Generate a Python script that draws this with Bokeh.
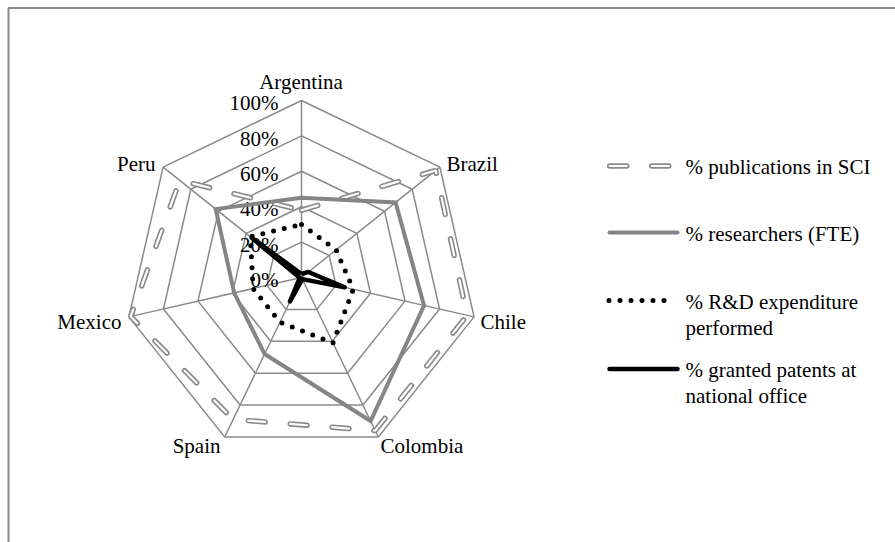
import math
from bokeh.plotting import figure
from bokeh.models import Range1d
from bokeh.embed import file_html
from bokeh.resources import INLINE
from bokeh.core.properties import value

# ---------------- data ----------------
countries = ["Argentina", "Brazil", "Chile", "Colombia", "Spain", "Mexico", "Peru"]
pub_sci = [38, 97, 96, 96, 89, 99, 88]          # % publications in SCI
researchers = [45, 68, 71, 90, 48, 39, 62]      # % researchers (FTE)
rd_expenditure = [30, 25, 30, 41, 28, 28, 37]   # % R&D expenditure performed
patents = [2, 5, 25, 1, 15, 1, 36]              # % granted patents at national office
ticks = [0, 20, 40, 60, 80, 100]
tick_labels = ["0%", "20%", "40%", "60%", "80%", "100%"]
legend_lines = [["% publications in SCI"],
                ["% researchers (FTE)"],
                ["% R&D expenditure", "performed"],
                ["% granted patents at", "national office"]]

# ---------------- layout ----------------
W, H = 895, 542
CX, CY = 301, 277      # radar centre in pixels
SCALE = 1.77           # pixels per percent
FONT = value("Liberation Serif")
FS = "21px"
GRID = "#8a8a8a"
SERIES_GRAY = "#858585"
BASE_SHIFT = 6.4       # px between requested 'middle' anchor and visual baseline


def px(xp, yp):
    return (xp - CX) / SCALE, (CY - yp) / SCALE


n = len(countries)
angles = [math.pi / 2 - 2 * math.pi * k / n for k in range(n)]


def polar(vals, close=True):
    xs = [v * math.cos(a) for v, a in zip(vals, angles)]
    ys = [v * math.sin(a) for v, a in zip(vals, angles)]
    if close:
        xs.append(xs[0])
        ys.append(ys[0])
    return xs, ys


p = figure(width=W, height=H,
           x_range=Range1d(-CX / SCALE, (W - CX) / SCALE),
           y_range=Range1d(-(H - CY) / SCALE, CY / SCALE),
           output_backend="svg", toolbar_location=None,
           x_axis_location=None, y_axis_location=None,
           min_border=0, outline_line_color=None)
p.grid.visible = False
p.background_fill_color = "white"
p.border_fill_color = "white"

# outer frame (top and left edges visible)
fx, fy = zip(px(8, H + 5), px(8, 7.5), px(W + 5, 7.5))
p.line(list(fx), list(fy), line_color="#8a8a8a", line_width=2)

# grid rings and spokes
for t in ticks[1:]:
    xs, ys = polar([t] * n)
    p.line(xs, ys, line_color=GRID, line_width=1.5)
mx, my = polar([ticks[-1]] * n, close=False)
p.segment(x0=[0] * n, y0=[0] * n, x1=mx, y1=my, line_color=GRID, line_width=1.5)

# tick labels along Argentina axis (baseline ~9px below ring)
tick_y = [t - (9 - BASE_SHIFT) / SCALE for t in ticks]
p.text(x=[(278 - CX) / SCALE] * len(ticks), y=tick_y, text=tick_labels,
       text_align="right", text_baseline="middle", text_font=FONT,
       text_font_size=FS, text_color="black")

# series
xs, ys = polar(pub_sci)
p.line(xs, ys, line_color=GRID, line_width=5.5, line_dash="17 25", line_cap="round")
p.line(xs, ys, line_color="white", line_width=2.2, line_dash="17 25", line_cap="round")

xs, ys = polar(researchers)
p.line(xs, ys, line_color=SERIES_GRAY, line_width=4, line_join="miter")

xs, ys = polar(rd_expenditure)
p.line(xs, ys, line_color="black", line_width=5, line_dash="0 11", line_cap="round")

xs, ys = polar(patents)
p.line(xs, ys, line_color="black", line_width=4.5, line_join="round")

# category labels (pixel anchors = baselines)
lab_pos = [(300.5, 88, "center"), (446, 170, "left"), (480, 328, "left"),
           (380, 452, "left"), (220, 452, "right"), (121, 328, "right"),
           (155, 170, "right")]
lx, ly, la = [], [], []
for (xp, yp, al) in lab_pos:
    dx, dy = px(xp, yp - BASE_SHIFT)
    lx.append(dx)
    ly.append(dy)
    la.append(al)
p.text(x=lx, y=ly, text=countries, text_align=la, text_baseline="middle",
       text_font=FONT, text_font_size=FS, text_color="black")

# legend
sample_y = [165.5, 232, 300, 368.5]
text_base = [173, 240, 308, 376]
line_gap = 25.5
tx, ty, tt = [], [], []
for i, lines in enumerate(legend_lines):
    for j, s in enumerate(lines):
        a, b = px(685, text_base[i] + j * line_gap - BASE_SHIFT)
        tx.append(a)
        ty.append(b)
        tt.append(s)
p.text(x=tx, y=ty, text=tt, text_align="left", text_baseline="middle",
       text_font=FONT, text_font_size=FS, text_color="black")

x0, y0 = px(609.2, sample_y[0]); x1, _ = px(672, sample_y[0])
p.line([x0, x1], [y0, y0], line_color=GRID, line_width=5.5, line_dash="17 25", line_cap="round")
p.line([x0, x1], [y0, y0], line_color="white", line_width=2.2, line_dash="17 25", line_cap="round")

x0, y0 = px(609, sample_y[1]); x1, _ = px(677, sample_y[1])
p.line([x0, x1], [y0, y0], line_color=SERIES_GRAY, line_width=4, line_cap="round")

x0, y0 = px(608.5, sample_y[2]); x1, _ = px(670, sample_y[2])
p.line([x0, x1], [y0, y0], line_color="black", line_width=5, line_dash="0 11", line_cap="round")

x0, y0 = px(609, sample_y[3]); x1, _ = px(677, sample_y[3])
p.line([x0, x1], [y0, y0], line_color="black", line_width=4.5, line_cap="round")

open("out.html", "w").write(file_html(p, INLINE))
